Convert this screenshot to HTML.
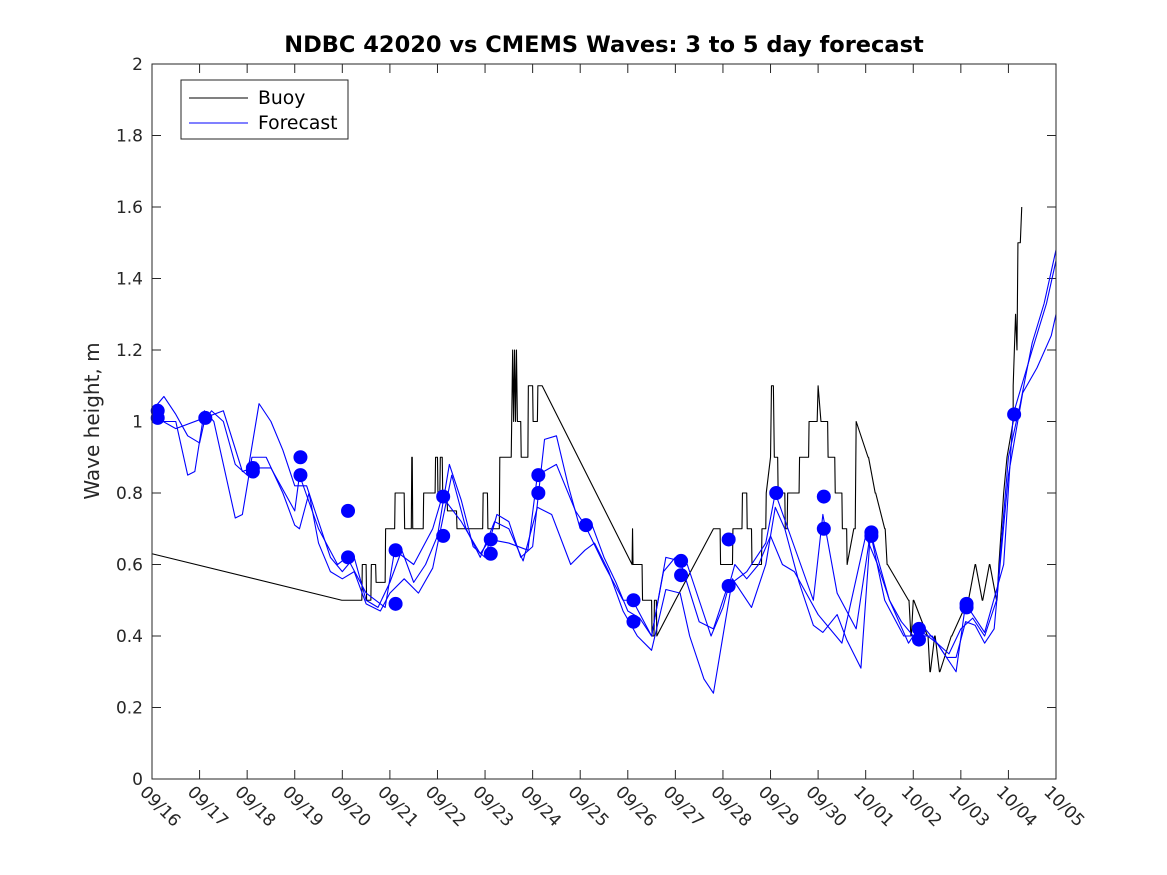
<!DOCTYPE html>
<html><head><meta charset="utf-8"><style>
body{margin:0;background:#fff}
svg{display:block;font-family:"DejaVu Sans","Liberation Sans",sans-serif}
</style></head><body>
<svg id="chart" width="1167" height="875" viewBox="0 0 1167 875">
<rect width="1167" height="875" fill="#fff"/>
<text x="604" y="52" text-anchor="middle" font-size="22.5" font-weight="bold" fill="#000">NDBC 42020 vs CMEMS Waves: 3 to 5 day forecast</text>
<text transform="translate(99,421) rotate(-90)" text-anchor="middle" font-size="20" fill="#262626">Wave height, m</text>
<g id="plot"></g>
<rect x="152" y="64" width="904" height="715" fill="none" stroke="#262626" stroke-width="1"/>
<g>
<rect x="181" y="80" width="167" height="59" fill="#fff" stroke="#262626"/>
<line x1="189" y1="98" x2="248" y2="98" stroke="#000"/>
<text x="258" y="104" font-size="18.8" fill="#000">Buoy</text>
<line x1="189" y1="123" x2="248" y2="123" stroke="#0000ff"/>
<text x="258" y="129" font-size="18.8" fill="#000">Forecast</text>
</g>
</svg>
<script>
const xTickLabels=["09/16","09/17","09/18","09/19","09/20","09/21","09/22","09/23","09/24","09/25","09/26","09/27","09/28","09/29","09/30","10/01","10/02","10/03","10/04","10/05"];
const yTicks=[0,0.2,0.4,0.6,0.8,1,1.2,1.4,1.6,1.8,2];
const buoyDays=[0,3.99,4.41,4.42,4.5,4.51,4.6,4.61,4.7,4.71,4.9,4.91,5.1,5.11,5.3,5.31,5.45,5.46,5.47,5.48,5.7,5.71,5.95,5.96,6.0,6.01,6.05,6.06,6.1,6.11,6.2,6.21,6.4,6.41,6.95,6.96,7.05,7.06,7.3,7.31,7.55,7.56,7.58,7.6,7.62,7.64,7.66,7.68,7.75,7.76,7.9,7.91,8.0,8.01,8.1,8.11,8.2,10.09,10.1,10.11,10.12,10.3,10.31,10.5,10.51,10.55,10.56,10.6,10.61,11.0,11.8,11.94,11.95,12.2,12.21,12.4,12.41,12.5,12.51,12.6,12.61,12.81,12.82,12.9,12.91,13.0,13.02,13.06,13.08,13.15,13.16,13.3,13.31,13.35,13.36,13.6,13.61,13.8,13.81,13.98,14.0,14.06,14.08,14.2,14.21,14.35,14.36,14.5,14.51,14.6,14.61,14.75,14.78,14.8,15.05,15.06,15.2,15.21,15.4,15.41,15.45,15.46,15.9,15.91,15.95,15.96,16.0,16.01,16.3,16.31,16.35,16.36,16.45,16.46,16.55,16.56,16.8,16.81,17.15,17.16,17.3,17.31,17.45,17.46,17.6,17.61,17.75,17.76,17.8,17.85,17.9,17.97,18.1,18.1,18.15,18.18,18.2,18.25,18.28];
const buoyValues=[0.63,0.50,0.50,0.60,0.60,0.50,0.50,0.60,0.60,0.55,0.55,0.70,0.70,0.80,0.80,0.70,0.70,0.90,0.90,0.70,0.70,0.80,0.80,0.90,0.90,0.80,0.80,0.90,0.90,0.80,0.80,0.75,0.75,0.70,0.70,0.80,0.80,0.70,0.70,0.90,0.90,1.00,1.20,1.00,1.20,1.00,1.20,1.00,1.00,0.90,0.90,1.10,1.10,1.00,1.00,1.10,1.10,0.60,0.70,0.60,0.60,0.60,0.50,0.50,0.40,0.40,0.50,0.50,0.40,0.50,0.70,0.70,0.60,0.60,0.70,0.70,0.80,0.80,0.70,0.70,0.60,0.60,0.70,0.70,0.80,0.90,1.10,1.10,0.90,0.90,0.80,0.80,0.70,0.70,0.80,0.80,0.90,0.90,1.00,1.00,1.10,1.00,1.00,1.00,0.90,0.90,0.80,0.80,0.70,0.70,0.60,0.70,0.70,1.00,0.90,0.90,0.80,0.80,0.70,0.70,0.60,0.60,0.50,0.50,0.40,0.40,0.50,0.50,0.40,0.40,0.30,0.30,0.40,0.40,0.30,0.30,0.40,0.40,0.50,0.50,0.60,0.60,0.50,0.50,0.60,0.60,0.50,0.50,0.60,0.70,0.80,0.90,1.00,1.10,1.30,1.20,1.50,1.50,1.60];
const fcADays=[0,0.25,0.5,0.75,1.0,1.1,1.25,1.5,1.75,2.0,2.25,2.5,2.75,3.0,3.25,3.5,3.75,4.0,4.25,4.5,4.75,5.0,5.25,5.5,5.75,6.0,6.25,6.5,6.75,7.0,7.25,7.5,7.75,8.0,8.25,8.5,8.75,9.0,9.25,9.5,9.75,10.0,10.25,10.5,10.75,11.0,11.25,11.5,11.75,12.0,12.25,12.5,12.75,13.0,13.25,13.5,13.75,14.0,14.25,14.5,15.0,15.25,15.5,15.75,16.0,16.25,16.5,16.75,17.0,17.25,17.5,17.75,18.0,18.25,18.5,18.75,19.0];
const fcAValues=[1.03,1.07,1.02,0.96,0.94,1.0,1.03,1.0,0.88,0.85,1.05,1.0,0.92,0.82,0.82,0.72,0.62,0.58,0.62,0.50,0.48,0.55,0.64,0.55,0.60,0.68,0.88,0.78,0.65,0.62,0.74,0.72,0.62,0.65,0.95,0.96,0.82,0.70,0.71,0.62,0.55,0.47,0.45,0.40,0.58,0.62,0.60,0.50,0.40,0.48,0.60,0.56,0.60,0.68,0.60,0.58,0.52,0.46,0.42,0.38,0.68,0.60,0.50,0.44,0.40,0.42,0.38,0.35,0.42,0.45,0.40,0.50,0.90,1.05,1.22,1.33,1.48];
const fcBDays=[0,0.5,0.75,0.9,1.1,1.3,1.75,1.9,2.1,2.4,2.75,3.0,3.1,3.3,3.5,3.75,4.0,4.25,4.5,4.8,5.0,5.3,5.6,5.9,6.1,6.3,6.6,6.9,7.2,7.5,7.8,8.1,8.4,8.8,9.1,9.3,9.6,9.9,10.2,10.5,10.8,11.1,11.3,11.6,11.8,12.0,12.2,12.6,12.9,13.1,13.3,13.6,13.9,14.1,14.4,14.6,14.9,15.1,15.4,15.8,16.1,16.4,16.7,16.9,17.1,17.3,17.5,17.7,18.0,18.3,18.6,18.9,19.0];
const fcBValues=[1.0,1.0,0.85,0.86,1.03,1.0,0.73,0.74,0.9,0.9,0.80,0.71,0.70,0.80,0.66,0.58,0.56,0.58,0.49,0.47,0.52,0.56,0.52,0.59,0.72,0.85,0.70,0.62,0.72,0.70,0.61,0.76,0.74,0.60,0.64,0.66,0.58,0.47,0.40,0.36,0.53,0.52,0.40,0.28,0.24,0.40,0.56,0.48,0.60,0.76,0.70,0.55,0.43,0.41,0.46,0.39,0.31,0.69,0.50,0.40,0.40,0.40,0.34,0.34,0.44,0.43,0.38,0.42,0.85,1.08,1.15,1.24,1.30];
const fcCDays=[0.1,0.5,1.1,1.5,1.9,2.1,2.5,3.0,3.1,3.5,3.9,4.1,4.5,4.9,5.1,5.5,5.9,6.1,6.5,6.9,7.1,7.5,7.9,8.1,8.5,8.9,9.1,9.5,9.9,10.1,10.5,10.8,11.1,11.5,11.8,12.1,12.5,12.9,13.1,13.5,13.9,14.1,14.4,14.8,15.1,15.5,15.9,16.1,16.5,16.9,17.1,17.5,17.9,18.1,18.5,18.8,19.0];
const fcCValues=[1.01,0.98,1.01,1.03,0.86,0.87,0.87,0.75,0.85,0.70,0.60,0.62,0.52,0.48,0.64,0.60,0.70,0.79,0.72,0.63,0.67,0.66,0.64,0.85,0.88,0.75,0.71,0.60,0.50,0.50,0.40,0.62,0.61,0.44,0.42,0.54,0.58,0.66,0.80,0.65,0.50,0.74,0.52,0.42,0.69,0.50,0.38,0.42,0.38,0.30,0.49,0.41,0.60,1.02,1.20,1.33,1.45];
const dotDays=[0.12,0.12,1.12,2.12,2.12,3.12,3.12,4.12,4.12,5.12,5.12,6.12,6.12,7.12,7.12,8.12,8.12,9.12,10.12,10.12,11.12,11.12,12.12,12.12,13.12,14.12,14.12,15.12,15.12,16.12,16.12,17.12,17.12,18.12];
const dotValues=[1.03,1.01,1.01,0.87,0.86,0.90,0.85,0.75,0.62,0.64,0.49,0.79,0.68,0.67,0.63,0.85,0.80,0.71,0.50,0.44,0.61,0.57,0.67,0.54,0.80,0.79,0.70,0.69,0.68,0.42,0.39,0.49,0.48,1.02];

const NS="http://www.w3.org/2000/svg";
const X0=152,X1=1056,Y0=779,Y1=64;
const xs=d=>X0+d*(X1-X0)/19;
const ys=v=>Y0-v*(Y0-Y1)/2;
const g=document.getElementById('plot');
function mk(tag,attrs){const e=document.createElementNS(NS,tag);for(const k in attrs)e.setAttribute(k,attrs[k]);g.appendChild(e);return e;}
xTickLabels.forEach((lab,i)=>{
  const x=xs(i);
  const t1=mk('line',{x1:x,y1:Y0,x2:x,y2:Y0-9,stroke:'#262626'});
  
  
  const t2=mk('line',{x1:x,y1:Y1,x2:x,y2:Y1+9,stroke:'#262626'});
  
  
  const tx=mk('text',{transform:`translate(${x-13},${Y0+14}) rotate(45)`,'font-size':17,fill:'#262626'});
  tx.textContent=lab;
  
  
});
yTicks.forEach(v=>{
  const y=ys(v);
  const a=mk('line',{x1:X0,y1:y,x2:X0+9,y2:y,stroke:'#262626'});
  
  
  const b=mk('line',{x1:X1,y1:y,x2:X1-9,y2:y,stroke:'#262626'});
  
  
  const tx=mk('text',{x:X0-9,y:y+6,'text-anchor':'end','font-size':17,fill:'#262626'});
  tx.textContent=String(v);
  
  
});
function line(days,vals,color,name){
  const p=mk('polyline',{points:days.map((d,i)=>xs(d)+','+ys(vals[i])).join(' '),fill:'none',stroke:color,'stroke-width':1.1,'stroke-linejoin':'round'});
  
  
}
line(buoyDays,buoyValues,'#000','buoy-line');
line(fcADays,fcAValues,'#0000ff','forecast-line-a');
line(fcBDays,fcBValues,'#0000ff','forecast-line-b');
line(fcCDays,fcCValues,'#0000ff','forecast-line-c');
dotDays.forEach((d,i)=>{
  const c=mk('circle',{cx:xs(d),cy:ys(dotValues[i]),r:7,fill:'#0000ff'});
  
  
});
</script>
</body></html>
